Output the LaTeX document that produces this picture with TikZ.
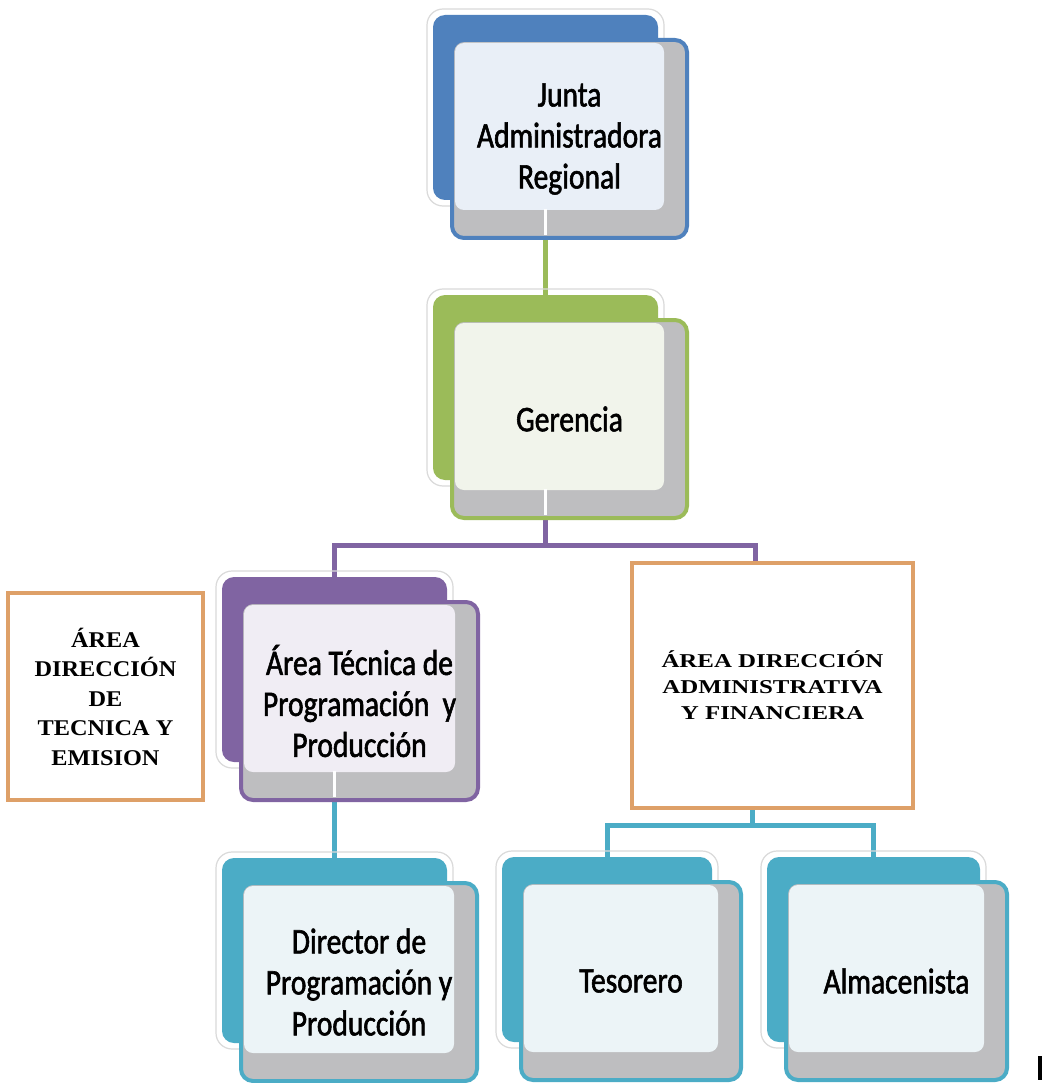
\documentclass[tikz,border=0pt]{standalone}
\usepackage{fontspec}
\newfontfamily\calfont[FakeStretch=0.82,FakeBold=1.6]{Carlito}
\newfontfamily\serifL[FakeStretch=1.08]{Liberation Serif}
\newfontfamily\serifR[FakeStretch=1.27]{Liberation Serif}
\usetikzlibrary{backgrounds,calc}
\definecolor{blueC}{RGB}{79,129,189}
\definecolor{greenC}{RGB}{155,187,89}
\definecolor{purpleC}{RGB}{128,100,162}
\definecolor{tealC}{RGB}{75,172,198}
\definecolor{orangeC}{RGB}{222,160,104}
\definecolor{greyC}{RGB}{190,190,192}
\definecolor{glowC}{RGB}{218,218,218}
\definecolor{blueL}{RGB}{233,239,247}
\definecolor{greenL}{RGB}{241,244,235}
\definecolor{purpleL}{RGB}{240,237,244}
\definecolor{tealL}{RGB}{236,244,247}
\tikzset{
  backbox/.style={rounded corners=12pt, minimum height=185pt, anchor=north west, inner sep=0pt, outer sep=0pt},
  frontbox/.style={rounded corners=12pt, minimum height=198pt, anchor=north west, line width=4pt,
    fill=greyC, inner sep=0pt, outer sep=0pt, align=center, font=\calfont\fontsize{36}{41}\selectfont},
  glow/.style={draw=glowC, line width=1.2pt, rounded corners=16pt},
  conn/.style={line width=5pt},
  orbox/.style={draw=orangeC, line width=4.5pt, fill=white, anchor=north west, inner sep=0pt, outer sep=0pt, align=center},
  whiteline/.style={white, line width=3pt},
}
% #1 name, #2 colour, #3 inner colour, #4 x0, #5 y0, #6 back width, #7 front width, #8 text
\newcommand\orgunit[8]{%
  \node[backbox, fill=#2, minimum width=#6pt] (#1B) at (#4,#5) {};
  \draw[glow] ([shift={(-6,-6)}]#1B.north west) rectangle ([shift={(6,6)}]#1B.south east);
  \node[frontbox, draw=#2, minimum width=#7pt,
    path picture={\fill[#3, rounded corners=9pt]
      ([shift={(3,3)}]path picture bounding box.north west) rectangle
      ([shift={(-23,-28)}]path picture bounding box.south east);}]
    (#1) at (#4+19,#5+25) {#8};
}
\begin{document}
\begin{tikzpicture}[x=1pt,y=-1pt]
\useasboundingbox (0,0) rectangle (1042,1083);
\begin{pgfonlayer}{background}
  \fill[white] (0,0) rectangle (1042,1083);
\end{pgfonlayer}

\orgunit{junta}{blueC}{blueL}{433}{15}{225}{235}{Junta\\Administradora\\Regional}
\orgunit{ger}{greenC}{greenL}{433}{295}{225}{235}{Gerencia}
\orgunit{purp}{purpleC}{purpleL}{222}{577}{225}{237}{Área Técnica de\\Programación~ y\\Producción}
\orgunit{dir}{tealC}{tealL}{222}{858}{225}{236}{Director de\\Programación y\\Producción}
\orgunit{tes}{tealC}{tealL}{502}{857}{210}{220}{Tesorero}
\orgunit{alm}{tealC}{tealL}{767}{857}{213}{221}{Almacenista}

\node[orbox, minimum width=195pt, minimum height=207pt,
  font=\serifL\bfseries\fontsize{22.5}{29.5}\selectfont] (orL) at (8,593)
  {ÁREA\\DIRECCIÓN\\DE\\TECNICA Y\\EMISION};
\node[orbox, minimum width=281pt, minimum height=245pt,
  font=\serifR\bfseries\fontsize{19.6}{26}\selectfont] (orR) at (632,563)
  {ÁREA DIRECCIÓN\\ADMINISTRATIVA\\Y FINANCIERA};

\coordinate (pj) at (545.5,545);
\coordinate (pr) at (755,545);
\coordinate (tj) at (752,825);
\begin{pgfonlayer}{background}
  \draw[conn, greenC] (juntaB.center) -- (gerB.center);
  \draw[conn, purpleC] (gerB.center) -- (pj);
  \draw[conn, purpleC] (pj) -| (purpB.center);
  \draw[conn, purpleC] (pj) -- (pr) -- (pr |- orR.north);
  \draw[conn, tealC] (purpB.center) -- (dirB.center);
  \draw[conn, tealC] (orR.south -| tj) -- (tj);
  \draw[conn, tealC] (tj) -| (tesB.center);
  \draw[conn, tealC] (tj) -| (almB.center);
\end{pgfonlayer}

\draw[whiteline] ($(juntaB.center |- junta.south)+(0,-29)$) -- ($(juntaB.center |- junta.south)+(0,-3)$);
\draw[whiteline] ($(gerB.center |- ger.south)+(0,-29)$) -- ($(gerB.center |- ger.south)+(0,-3)$);
\draw[whiteline] ($(purpB.center |- purp.south)+(0,-29)$) -- ($(purpB.center |- purp.south)+(0,-3)$);

\fill[black] (1038,1056) rectangle (1042,1080);
\end{tikzpicture}
\end{document}
